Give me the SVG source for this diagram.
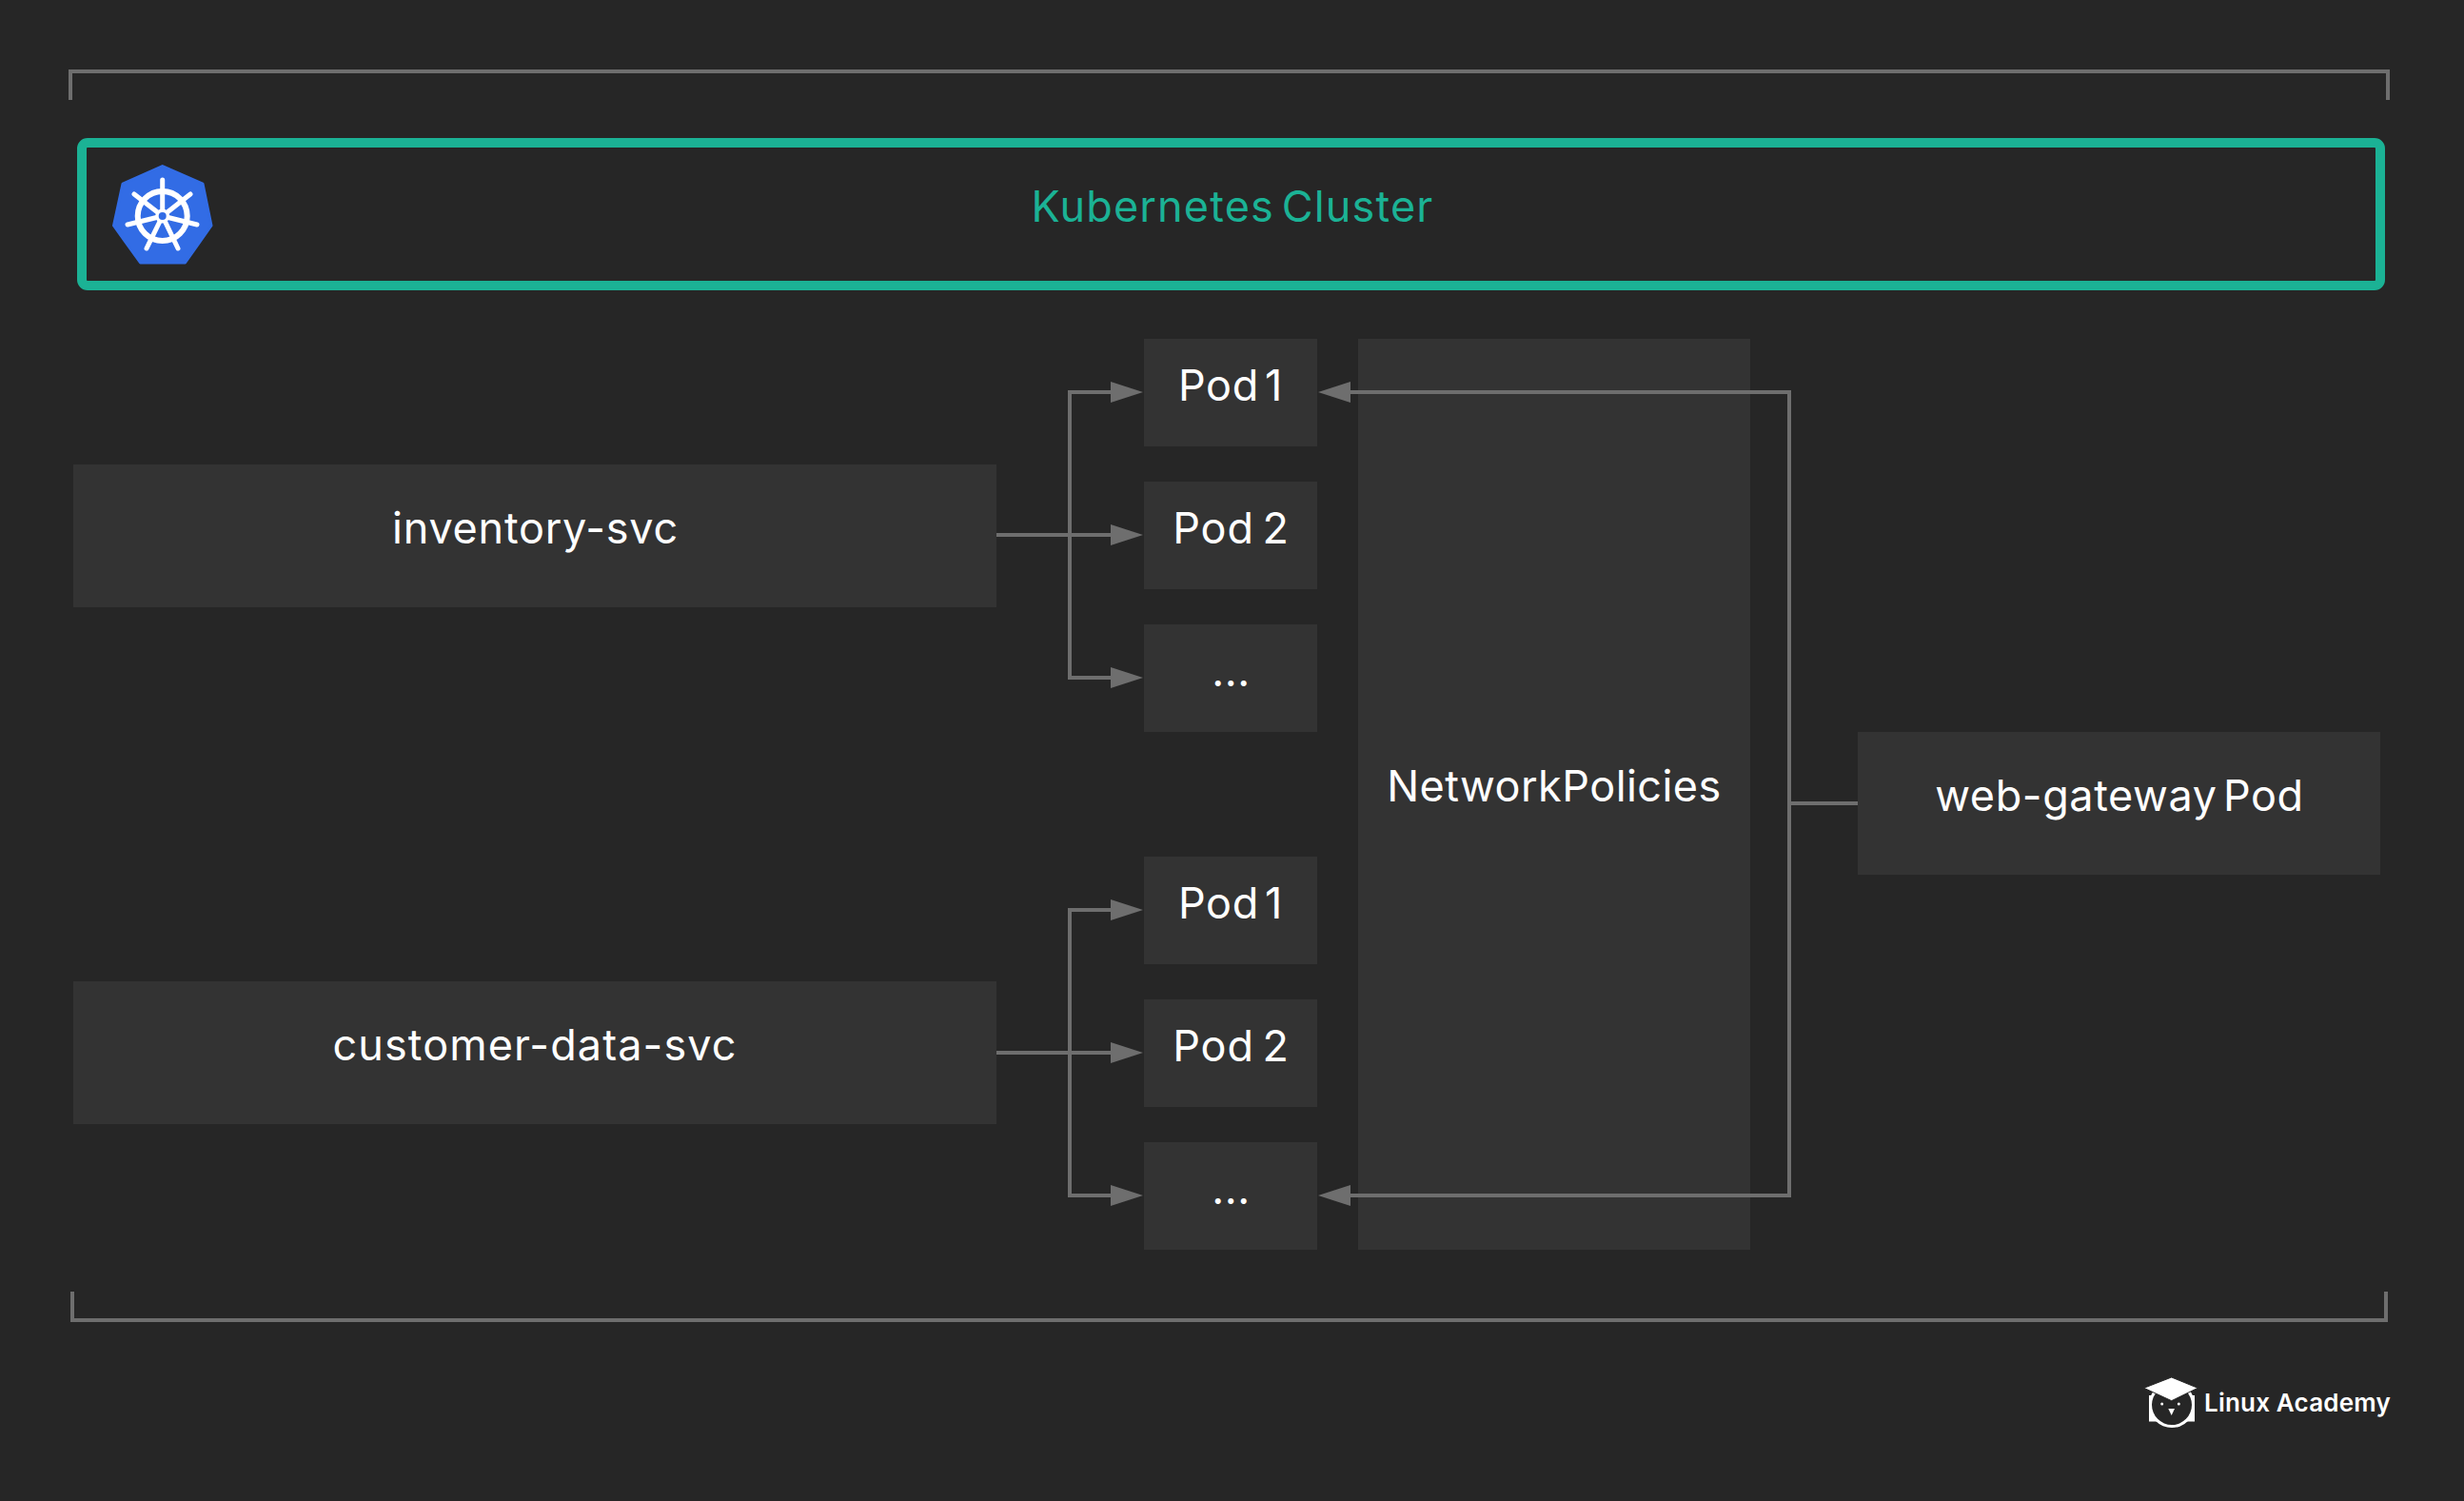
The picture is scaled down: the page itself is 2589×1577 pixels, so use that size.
<svg xmlns="http://www.w3.org/2000/svg" width="2589" height="1577" viewBox="0 0 2589 1577">
<defs>
<style>
.box{fill:#333333}
.t{font-family:"Inter","Liberation Sans",sans-serif;font-size:45px;fill:#ffffff;text-anchor:middle;letter-spacing:.6px;word-spacing:-7px}
.p2{letter-spacing:.9px;word-spacing:-5px}
.c{fill:none;stroke:#6e6e6e;stroke-width:4}
.a{fill:#6e6e6e}
</style>
</defs>
<rect width="2589" height="1577" fill="#262626"/>
<g id="frame"><path class="c" d="M74 105V75H2509V105"/><path class="c" d="M76 1357V1387H2507V1357"/></g>
<g id="cluster">
<rect x="86" y="150" width="2415" height="150" rx="6" fill="none" stroke="#1bb295" stroke-width="10"/>
<text x="1295" y="232.500" class="t" style="fill:#1bb295;letter-spacing:1.150px;word-spacing:-6px">Kubernetes Cluster</text>
<path d="M170.700 174.500L213 193L222 237L194.500 276H147.500L119.500 237L129 193Z" fill="#326ce5" stroke="#326ce5" stroke-width="3" stroke-linejoin="round"/>
<g fill="none" stroke="#fff">
<circle cx="170.700" cy="227" r="26" stroke-width="6"/>
<g stroke-width="5" stroke-linecap="round">
<path d="M170.700 227V189M170.700 227L200 204M170.700 227L207 236M170.700 227L187 261M170.700 227L154 261M170.700 227L134 236M170.700 227L141 204"/>
</g>
</g>
<circle cx="170.700" cy="227" r="7.500" fill="#fff"/>
<circle cx="170.700" cy="227" r="4" fill="#326ce5"/>
</g>
<g id="inventory-svc"><rect class="box" x="77" y="488" width="970" height="150"/><text class="t" style="letter-spacing:.75px" x="562.500" y="570.500">inventory-svc</text></g>
<g id="customer-data-svc"><rect class="box" x="77" y="1031" width="970" height="150"/><text class="t" style="letter-spacing:1.100px" x="562" y="1114">customer-data-svc</text></g>
<g id="pod-1a"><rect class="box" x="1202" y="356" width="182" height="113"/><text class="t" x="1293" y="420.500">Pod 1</text></g>
<g id="pod-2a"><rect class="box" x="1202" y="506" width="182" height="113"/><text class="t p2" x="1293.500" y="570.500">Pod 2</text></g>
<g id="pod-3a"><rect class="box" x="1202" y="656" width="182" height="113"/><text class="t" x="1293.500" y="721">...</text></g>
<g id="pod-1b"><rect class="box" x="1202" y="900" width="182" height="113"/><text class="t" x="1293" y="964.500">Pod 1</text></g>
<g id="pod-2b"><rect class="box" x="1202" y="1050" width="182" height="113"/><text class="t p2" x="1293.500" y="1114.500">Pod 2</text></g>
<g id="pod-3b"><rect class="box" x="1202" y="1200" width="182" height="113"/><text class="t" x="1293.500" y="1265">...</text></g>
<g id="network-policies"><rect class="box" x="1427" y="356" width="412" height="957"/><text class="t" style="letter-spacing:.45px" x="1633" y="841.500">NetworkPolicies</text></g>
<g id="web-gateway"><rect class="box" x="1952" y="769" width="549" height="150"/><text class="t" x="2227" y="851.500">web-gateway Pod</text></g>
<g id="connectors">
<path class="c" d="M1047 562H1170M1170 412H1124V712H1170M1047 1106H1170M1170 956H1124V1256H1170M1416 412H1880V1256H1416M1880 844H1952"/>
<path class="a" d="M1201 412L1167 401V423ZM1201 562L1167 551V573ZM1201 712L1167 701V723ZM1201 956L1167 945V967ZM1201 1106L1167 1095V1117ZM1201 1256L1167 1245V1267ZM1385 412L1419 401V423ZM1385 1256L1419 1245V1267Z"/>
</g>
<g id="logo">
<rect x="2258" y="1466" width="48" height="27.500" fill="#fff"/>
<circle cx="2282" cy="1476" r="24" fill="#fff"/>
<circle cx="2282" cy="1476" r="21" fill="#262626"/>
<path d="M2281.700 1447L2309.300 1458.300L2281.700 1471.700L2252.700 1458.300Z" fill="#fff" stroke="#262626" stroke-width="1"/>
<circle cx="2271.700" cy="1475" r="1.500" fill="#fff"/>
<circle cx="2289.300" cy="1475" r="1.500" fill="#fff"/>
<path d="M2278.300 1480H2285L2281.700 1487Z" fill="#fff"/>
<text x="2316" y="1482.500" font-family="Inter,'Liberation Sans',sans-serif" font-size="26" font-weight="600" letter-spacing=".2" fill="#fff">Linux Academy</text>
</g>
</svg>
